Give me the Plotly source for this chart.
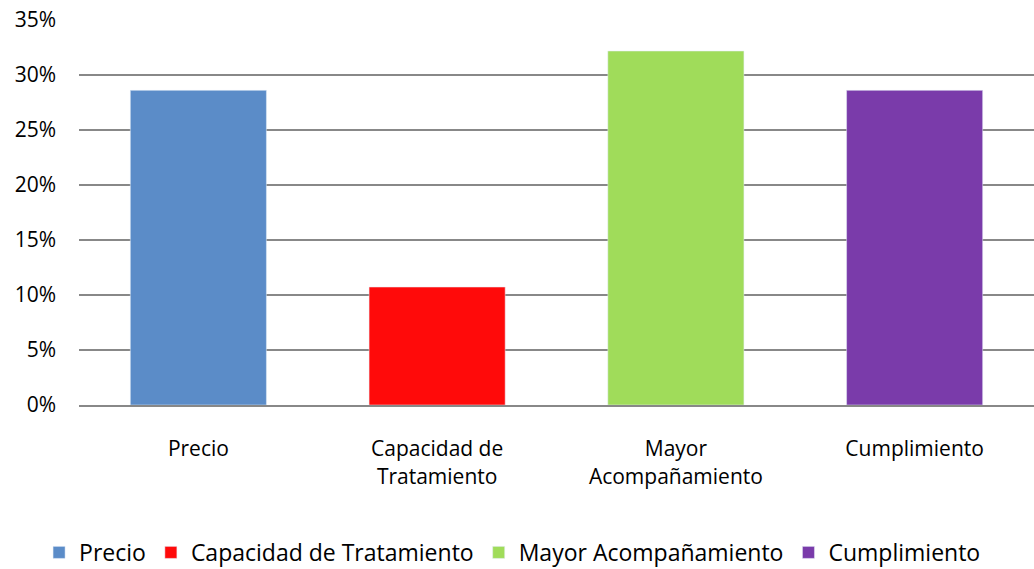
import plotly.graph_objects as go

categories = ["Precio", "Capacidad de Tratamiento", "Mayor Acompañamiento", "Cumplimiento"]
tick_labels = ["Precio", "Capacidad de<br>Tratamiento", "Mayor<br>Acompañamiento", "Cumplimiento"]
values = [0.2857, 0.1071, 0.3214, 0.2857]
colors = ["#5B8CC8", "#FF0A0A", "#A0DC5A", "#7A3BAA"]

fig = go.Figure()
for cat, lab, v, c in zip(categories, tick_labels, values, colors):
    fig.add_trace(go.Bar(x=[lab], y=[v], name=cat, marker=dict(color=c), width=0.57))

FONT = "Open Sans"
fig.update_layout(
    width=1034, height=569,
    margin=dict(l=79, r=0, t=19, b=164, autoexpand=False),
    plot_bgcolor="white", paper_bgcolor="white",
    barmode="overlay",
    font=dict(family=FONT, size=21, color="#000000"),
    legend=dict(orientation="h", x=0.454, xanchor="center", y=-0.382, yanchor="middle",
                font=dict(family=FONT, size=23), itemwidth=30, traceorder="normal"),
    showlegend=True,
)
fig.update_yaxes(range=[0, 0.3505], dtick=0.05, tickformat=".0%", showgrid=True,
                 gridcolor="#888888", gridwidth=2, zeroline=False, ticks="",
                 ticklabelstandoff=22, showline=False, automargin=False)
fig.update_xaxes(showline=True, linecolor="#888888", linewidth=2, ticks="",
                 ticklabelstandoff=24, categoryorder="array", categoryarray=tick_labels,
                 automargin=False)

fig.write_html("out.html", config={"displayModeBar": False},
               post_script="document.body.style.margin='0';document.body.style.overflow='hidden';")
